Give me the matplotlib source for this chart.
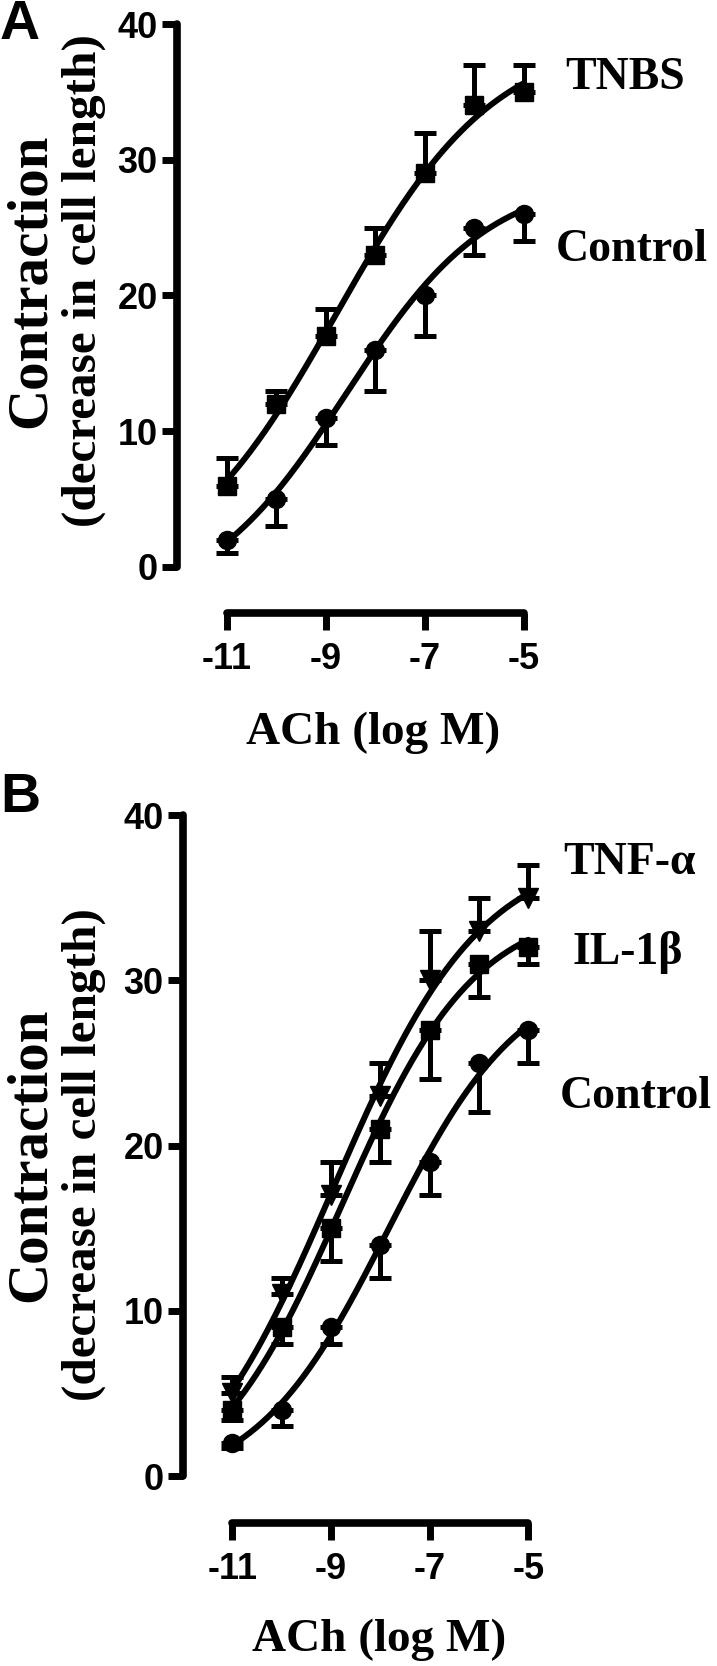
import numpy as np
import matplotlib
matplotlib.use("Agg")
import matplotlib.pyplot as plt

# ACh concentrations (log M)
log_ach = [-11, -10, -9, -8, -7, -6, -5]

# Panel A
tnbs_mean = [6, 12, 17, 23, 29, 34, 35]
tnbs_err = [2, 1, 2, 2, 3, 3, 2]
ctrl_a_mean = [2, 5, 11, 16, 20, 25, 26]
ctrl_a_err = [1, 2, 2, 3, 3, 2, 2]

# Panel B
tnf_mean = [5, 11, 17, 23, 30, 33, 35]
tnf_err = [1, 1, 2, 2, 3, 2, 2]
il1_mean = [4, 9, 15, 21, 27, 31, 32]
il1_err = [0.6, 1, 2, 2, 3, 2, 1]
ctrl_b_mean = [2, 4, 9, 14, 19, 25, 27]
ctrl_b_err = [0.3, 1, 1, 2, 2, 3, 2]

x_ticks = [-11, -9, -7, -5]
y_ticks = [0, 10, 20, 30, 40]

W, H = 717, 1666
SERIF = ["Liberation Serif", "DejaVu Serif"]
SANS = ["Liberation Sans", "DejaVu Sans"]


def fit_sigmoid(x, y):
    # least squares 4-parameter logistic, grid over logEC50 and hill slope
    x = np.asarray(x, float)
    y = np.asarray(y, float)
    ec = np.arange(-12, -3, 0.01)[:, None, None]
    hs = np.arange(0.2, 2.0, 0.01)[None, :, None]
    s = 1.0 / (1.0 + 10 ** ((ec - x) * hs))
    u = 1 - s
    a = (u * u).sum(-1)
    b = (u * s).sum(-1)
    c = (s * s).sum(-1)
    d1 = (u * y).sum(-1)
    d2 = (s * y).sum(-1)
    det = a * c - b * b
    bot = (c * d1 - b * d2) / det
    top = (a * d2 - b * d1) / det
    res = ((y - bot[..., None] * u - top[..., None] * s) ** 2).sum(-1)
    i, j = np.unravel_index(np.nanargmin(res), res.shape)
    return bot[i, j], top[i, j], ec[i, 0, 0], hs[0, j, 0]


def draw_series(ax, mean, err, marker, up):
    zeros = [0] * len(err)
    yerr = [zeros, err] if up else [err, zeros]
    ax.errorbar(log_ach, mean, yerr=yerr, fmt="none", ecolor="black",
                elinewidth=3.6, capsize=8, capthick=3.6, clip_on=False, zorder=2)
    bot, top, ec, h = fit_sigmoid(log_ach, mean)
    xs = np.linspace(log_ach[0], log_ach[-1], 200)
    ys = bot + (top - bot) / (1 + 10 ** ((ec - xs) * h))
    ax.plot(xs, ys, color="black", lw=4.3, solid_capstyle="round",
            clip_on=False, zorder=3)
    ms = 14 if marker == "v" else 13
    ax.plot(log_ach, mean, linestyle="none", marker=marker, color="black",
            markersize=ms, clip_on=False, zorder=4)


def style_axes(ax, ylow):
    ax.set_xlim(-12, -5)
    ax.set_ylim(ylow, 40)
    for sp in ["top", "right"]:
        ax.spines[sp].set_visible(False)
    ax.spines["left"].set_bounds(0, 40)
    ax.spines["bottom"].set_bounds(-11, -5)
    for sp in ["left", "bottom"]:
        ax.spines[sp].set_linewidth(5.5)
        ax.spines[sp].set_capstyle("round")
    ax.set_xticks(x_ticks)
    ax.set_yticks(y_ticks)
    ax.set_xticklabels([str(t) for t in x_ticks])
    ax.set_yticklabels([str(t) for t in y_ticks])
    ax.tick_params(axis="y", length=11, width=5, pad=3)
    ax.tick_params(axis="x", length=12, width=5, pad=9)
    for lab in ax.get_xticklabels() + ax.get_yticklabels():
        lab.set_family(SANS)
        lab.set_fontweight("bold")
        lab.set_fontsize(26)
    ax.patch.set_visible(False)


def px(x, y):
    return x / W, 1 - y / H


fig = plt.figure(figsize=(W / 100, H / 100), dpi=100)

# panel A
axA = fig.add_axes([177 / W, (H - 613) / H, 346.5 / W, (613 - 24) / H])
style_axes(axA, -3.39)
draw_series(axA, ctrl_a_mean, ctrl_a_err, "o", up=False)
draw_series(axA, tnbs_mean, tnbs_err, "s", up=True)

# panel B
axB = fig.add_axes([183 / W, (H - 1523) / H, 345.3 / W, (1523 - 815) / H])
style_axes(axB, -2.84)
draw_series(axB, ctrl_b_mean, ctrl_b_err, "o", up=False)
draw_series(axB, il1_mean, il1_err, "s", up=False)
draw_series(axB, tnf_mean, tnf_err, "v", up=True)

txt = dict(family=SERIF, fontweight="bold", color="black")

# panel letters
fig.text(*px(0, 25), "A", family=SANS, fontweight="bold", fontsize=40, va="center", ha="left")
fig.text(*px(0, 798), "B", family=SANS, fontweight="bold", fontsize=40, va="center", ha="left")

# y labels
for yc in (281, 1155):
    fig.text(*px(31, yc), "Contraction", rotation=90, fontsize=41, va="center", ha="center", **txt)
    fig.text(*px(84, yc), "(decrease in cell length)", rotation=90, fontsize=35.5, va="center", ha="center", **txt)

# x labels
fig.text(*px(373, 733), "ACh (log M)", fontsize=34, va="center", ha="center", **txt)
fig.text(*px(379, 1640), "ACh (log M)", fontsize=34, va="center", ha="center", **txt)

# series labels
fig.text(*px(565, 78), "TNBS", fontsize=33, va="center", ha="left", **txt)
fig.text(*px(556, 250), "Control", fontsize=33, va="center", ha="left", **txt)
fig.text(*px(563, 863), "TNF-α", fontsize=33, va="center", ha="left", **txt)
fig.text(*px(572, 953), "IL-1β", fontsize=33, va="center", ha="left", **txt)
fig.text(*px(560, 1097), "Control", fontsize=33, va="center", ha="left", **txt)

fig.savefig("out.png", dpi=100)
